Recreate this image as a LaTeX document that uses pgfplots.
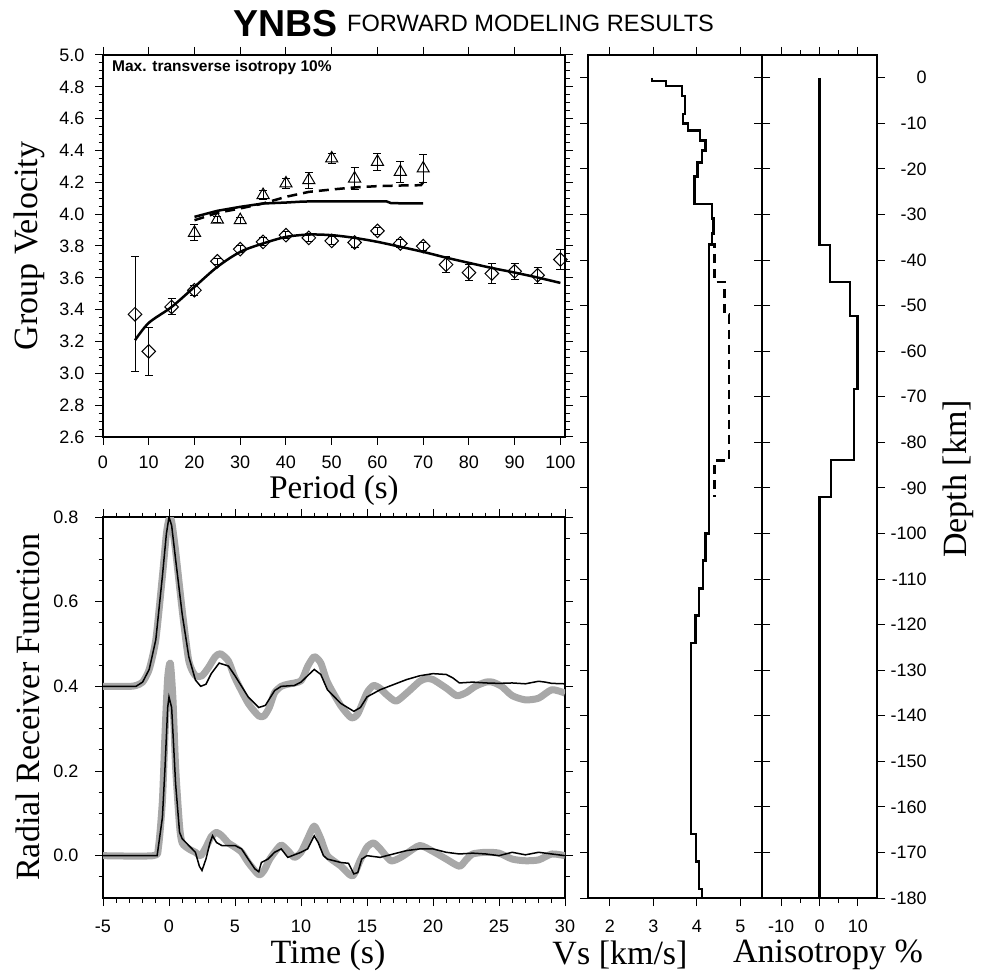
\documentclass[border=0pt]{standalone}
\usepackage{fontspec}
\setmainfont{Liberation Sans}
\newfontfamily\serif{Liberation Serif}
\usepackage{pgfplots}
\pgfplotsset{compat=1.18}
\definecolor{rfgray}{RGB}{168,168,168}
\pgfplotsset{
 gmt/.style={scale only axis, anchor=south west,
   axis line style={line width=1.2pt},
   tick align=outside,
   tick style={black, line width=1pt},
   major tick length=8pt, minor tick length=4.5pt,
   tick label style={font=\fontsize{18}{18}\selectfont},
   xticklabel style={inner sep=1pt, yshift=-13pt},
   /pgf/number format/assume math mode=true,
 },
}
\begin{document}
\begin{tikzpicture}
\path[use as bounding box] (0,0) rectangle (984pt,975pt);

% ---------------- Group velocity ----------------
\begin{axis}[gmt, at={(103pt,538pt)}, width=462pt, height=382pt,
  xmin=0, xmax=101, ymin=2.6, ymax=5.0,
  xtick={0,10,20,30,40,50,60,70,80,90,100},
  ytick={2.6,2.8,3.0,3.2,3.4,3.6,3.8,4.0,4.2,4.4,4.6,4.8,5.0},
  minor y tick num=3,
  xticklabel style={yshift=3pt},
  yticklabel style={xshift=-7pt, /pgf/number format/.cd, fixed, fixed zerofill, precision=1},
  error bars/error bar style={black, line width=1pt},
  error bars/error mark options={rotate=90, mark size=4pt, line width=1pt, black},
]
\addplot[black, line width=2.5pt, smooth, tension=0.5] coordinates {(7,3.208)(10,3.317)(15,3.417)(20,3.543)(25,3.669)(30,3.763)(35,3.816)(40,3.857)(45,3.872)(50,3.868)(55,3.851)(60,3.826)(65,3.795)(70,3.763)(75,3.727)(80,3.694)(85,3.662)(90,3.633)(95,3.602)(100,3.568)};
\addplot[black, line width=2.5pt] coordinates {(20,3.983)(25,4.021)(30,4.046)(35,4.067)(40,4.073)(43,4.078)(45,4.080)(50,4.080)(55,4.080)(62,4.080)(63,4.069)(70,4.067)};
\addplot[black, line width=2.5pt, dash pattern=on 10pt off 6pt] coordinates {(20,3.962)(25,4.008)(30,4.036)(35,4.067)(40,4.109)(45,4.140)(50,4.155)(55,4.168)(60,4.176)(65,4.180)(69.5,4.182)(70,4.200)};
\addplot[only marks, mark=square, mark size=4.8pt, mark options={rotate=45, line width=1pt, black, fill=none},
  error bars/.cd, y dir=both, y explicit] coordinates {
(7,3.371)+-(0,0.36)
(10,3.138)+-(0,0.15)
(15,3.417)+-(0,0.05)
(20,3.522)+-(0,0.03)
(25,3.704)+-(0,0.02)
(30,3.780)+-(0,0.02)
(35,3.826)+-(0,0.025)
(40,3.868)+-(0,0.02)
(45,3.851)+-(0,0.025)
(50,3.832)+-(0,0.025)
(55,3.822)+-(0,0.03)
(60,3.895)+-(0,0.02)
(65,3.816)+-(0,0.025)
(70,3.799)+-(0,0.025)
(75,3.683)+-(0,0.05)
(80,3.633)+-(0,0.05)
(85,3.627)+-(0,0.06)
(90,3.641)+-(0,0.05)
(95,3.616)+-(0,0.05)
(100,3.715)+-(0,0.065)
};
\addplot[only marks, mark=triangle, mark size=7pt, mark options={line width=1pt, black, fill=none},
  error bars/.cd, y dir=both, y explicit] coordinates {
(20,3.883)+-(0,0.05)
(25,3.966)+-(0,0.02)
(30,3.962)+-(0,0.02)
(35,4.120)+-(0,0.03)
(40,4.193)+-(0,0.03)
(45,4.214)+-(0,0.05)
(50,4.350)+-(0,0.03)
(55,4.224)+-(0,0.07)
(60,4.329)+-(0,0.055)
(65,4.266)+-(0,0.065)
(70,4.287)+-(0,0.09)
};
\end{axis}

% ---------------- Receiver functions ----------------
\begin{axis}[gmt, at={(103pt,77pt)}, width=462pt, height=381pt,
  xmin=-5, xmax=30, ymin=-0.1, ymax=0.8,
  xtick={-5,0,5,10,15,20,25,30}, minor x tick num=4,
  ytick={0,0.2,0.4,0.6,0.8},
  minor ytick={-0.05,0.05,0.1,0.15,0.25,0.3,0.35,0.45,0.5,0.55,0.65,0.7,0.75},
  yticklabel style={xshift=-13pt, /pgf/number format/.cd, fixed, fixed zerofill, precision=1},
]
\addplot[rfgray, line width=7pt, smooth, tension=0.4, line join=round] coordinates {
(-5,0.4)(-3,0.4)(-2.5,0.402)(-2,0.41)(-1.5,0.44)(-1,0.51)(-0.5,0.66)(-0.2,0.76)(0,0.795)(0.2,0.79)(0.5,0.72)(1,0.58)(1.5,0.46)(2,0.425)(2.5,0.425)(3,0.445)(3.5,0.47)(3.9,0.477)(4.5,0.46)(5,0.42)(6,0.36)(6.8,0.33)(7.2,0.33)(7.6,0.35)(8,0.385)(8.5,0.4)(9,0.405)(10,0.413)(10.5,0.447)(11,0.47)(11.5,0.455)(12,0.41)(13,0.355)(13.8,0.326)(14.3,0.335)(15,0.385)(15.5,0.402)(16,0.395)(16.5,0.38)(17.2,0.365)(18,0.384)(19,0.412)(19.5,0.418)(20,0.416)(21,0.396)(21.8,0.378)(22.5,0.385)(23.2,0.4)(24,0.41)(24.5,0.41)(25.2,0.4)(26,0.378)(27,0.368)(28,0.372)(29,0.392)(30,0.384)};
\addplot[rfgray, line width=7pt, smooth, tension=0.4, line join=round] coordinates {
(-5,0)(-1.2,0)(-0.8,0.02)(-0.5,0.13)(-0.3,0.29)(-0.1,0.42)(0.1,0.455)(0.3,0.37)(0.5,0.21)(0.8,0.07)(1,0.03)(1.5,0.016)(2,0.008)(2.4,0.0)(2.8,0.02)(3.2,0.045)(3.6,0.055)(4,0.047)(4.5,0.03)(5,0.02)(5.5,0.008)(6,-0.016)(6.8,-0.045)(7.2,-0.035)(7.6,-0.01)(8,0.008)(8.5,0.025)(9,0.012)(9.5,-0.004)(10,0.008)(10.5,0.04)(11,0.07)(11.5,0.04)(12,0.0)(13,-0.024)(13.9,-0.048)(14.5,-0.01)(15,0.02)(15.5,0.03)(16,0.016)(16.8,-0.012)(17.5,-0.005)(18,0.005)(19,0.024)(20,0.01)(21,-0.008)(22,-0.025)(22.5,-0.01)(23,0.004)(24,0.008)(25,0.006)(26,-0.008)(27,-0.012)(28,-0.01)(29,0.004)(30,0.0)};
\addplot[black, line width=1.5pt] coordinates {
(-5,0.4)(-2.5,0.4)(-2,0.41)(-1.5,0.44)(-1,0.51)(-0.5,0.66)(-0.2,0.76)(0,0.8)(0.2,0.78)(0.5,0.7)(1,0.57)(1.5,0.47)(2,0.415)(2.4,0.4)(2.8,0.405)(3.2,0.43)(3.8,0.455)(4.5,0.448)(5,0.425)(6,0.375)(6.8,0.35)(7.3,0.355)(8,0.39)(8.5,0.4)(9.5,0.402)(10,0.41)(10.5,0.425)(11,0.44)(11.5,0.428)(12,0.392)(13,0.36)(14,0.341)(14.5,0.35)(15,0.375)(16,0.392)(17,0.404)(18,0.416)(19,0.425)(20,0.43)(21,0.428)(21.5,0.42)(22,0.408)(23,0.41)(24,0.408)(25,0.407)(26,0.408)(27,0.406)(28,0.412)(28.5,0.41)(29,0.407)(30,0.406)};
\addplot[black, line width=1.5pt] coordinates {
(-5,0)(-0.9,0)(-0.5,0.09)(-0.3,0.21)(-0.1,0.35)(0,0.375)(0.2,0.35)(0.5,0.17)(0.8,0.055)(1,0.04)(1.5,0.024)(2,0.008)(2.3,-0.025)(2.5,-0.035)(2.8,-0.008)(3.1,0.03)(3.3,0.047)(3.6,0.031)(4,0.024)(5,0.024)(5.5,0.016)(6,-0.008)(6.5,-0.031)(6.8,-0.038)(7,-0.016)(7.5,-0.008)(8,0.008)(8.5,0.016)(9,-0.004)(10,0.008)(10.5,0.016)(11,0.047)(11.3,0.031)(11.7,0.0)(12,-0.008)(13,-0.016)(13.6,-0.018)(14,-0.043)(14.3,-0.04)(14.6,-0.008)(15,0.0)(16,-0.004)(17,0.004)(18,0.012)(19,0.016)(20,0.016)(21,0.008)(22,0.004)(23,0.006)(24,0.004)(25,0.0)(26,0.008)(27,0.002)(28,0.008)(29,0.004)(30,0.0)};
\end{axis}

% ---------------- Vs profile ----------------
\begin{axis}[gmt, at={(588pt,77pt)}, width=174pt, height=843pt,
  xmin=1.5, xmax=5.5, ymin=-180, ymax=5,
  xtick={2,3,4,5},
  ytick={-180,-170,-160,-150,-140,-130,-120,-110,-100,-90,-80,-70,-60,-50,-40,-30,-20,-10,0},
  yticklabels={},
]
\addplot[black, line width=2.5pt] coordinates {
(2.97,0)(2.97,-0.7)(3.29,-0.7)(3.29,-1.8)(3.66,-1.8)(3.66,-4.0)(3.73,-4.0)(3.73,-8.0)(3.68,-8.0)(3.68,-10.0)(3.80,-10.0)(3.80,-11.6)(4.08,-11.6)(4.08,-13.8)(4.20,-13.8)(4.20,-16.0)(4.12,-16.0)(4.12,-18.6)(4.02,-18.6)(4.02,-21.7)(3.95,-21.7)(3.95,-27.7)(4.35,-27.7)(4.35,-30.9)(4.39,-30.9)(4.39,-34.2)(4.35,-34.2)(4.35,-36.6)(4.28,-36.6)(4.28,-100)(4.20,-100)(4.20,-105.9)(4.14,-105.9)(4.14,-112.1)(4.05,-112.1)(4.05,-118)(3.97,-118)(3.97,-124)(3.87,-124)(3.87,-165.9)(3.98,-165.9)(3.98,-172)(4.05,-172)(4.05,-178)(4.12,-178)(4.12,-180)};
\addplot[black, line width=2.5pt, dash pattern=on 9pt off 6pt] coordinates {
(4.28,-36.6)(4.41,-36.6)(4.41,-44.8)(4.64,-44.8)(4.64,-52)(4.74,-52)(4.74,-84)(4.41,-84)(4.41,-92)};
\end{axis}

% ---------------- Anisotropy ----------------
\begin{axis}[gmt, at={(762pt,77pt)}, width=115pt, height=843pt,
  xmin=-15, xmax=15, ymin=-180, ymax=5,
  xtick={-10,0,10}, minor xtick={-5,5},
  ytick={-180,-170,-160,-150,-140,-130,-120,-110,-100,-90,-80,-70,-60,-50,-40,-30,-20,-10,0},
  yticklabel pos=right,
  yticklabel style={text width=38pt, align=right},
]
\addplot[black, line width=2.5pt] coordinates {
(0,0)(0,-36.7)(2.8,-36.7)(2.8,-44.8)(7.9,-44.8)(7.9,-52.3)(9.9,-52.3)(9.9,-68.3)(9.0,-68.3)(9.0,-83.9)(3.0,-83.9)(3.0,-92.0)(0,-92.0)(0,-180)};
\end{axis}

% ---------------- Titles and labels ----------------
\node[anchor=base west, inner sep=0, font=\bfseries\fontsize{37.5}{37.5}\selectfont] at (233pt,938.3pt) {YNBS};
\node[anchor=base west, inner sep=0, font=\fontsize{23.6}{23.6}\selectfont] at (347pt,943.3pt) {FORWARD MODELING RESULTS};
\node[anchor=base west, inner sep=0, font=\bfseries\fontsize{15.5}{15.5}\selectfont] at (112pt,903.3pt) {Max. transverse isotropy 10\%};

\node[inner sep=0, font=\serif\fontsize{34}{34}\selectfont, rotate=90] at (29pt,729pt) {Group Velocity};
\node[inner sep=0, font=\serif\fontsize{33}{33}\selectfont] at (334pt,484pt) {Period (s)};
\node[inner sep=0, font=\serif\fontsize{34}{34}\selectfont, rotate=90] at (28pt,268pt) {Radial Receiver Function};
\node[inner sep=0, font=\serif\fontsize{34}{34}\selectfont] at (328pt,20pt) {Time (s)};
\node[inner sep=0, font=\serif\fontsize{34}{34}\selectfont] at (620pt,20pt) {Vs [km/s]};
\node[inner sep=0, font=\serif\fontsize{34}{34}\selectfont] at (828pt,20pt) {Anisotropy \%};
\node[inner sep=0, font=\serif\fontsize{34}{34}\selectfont, rotate=90] at (958pt,496pt) {Depth [km]};
\end{tikzpicture}
\end{document}
